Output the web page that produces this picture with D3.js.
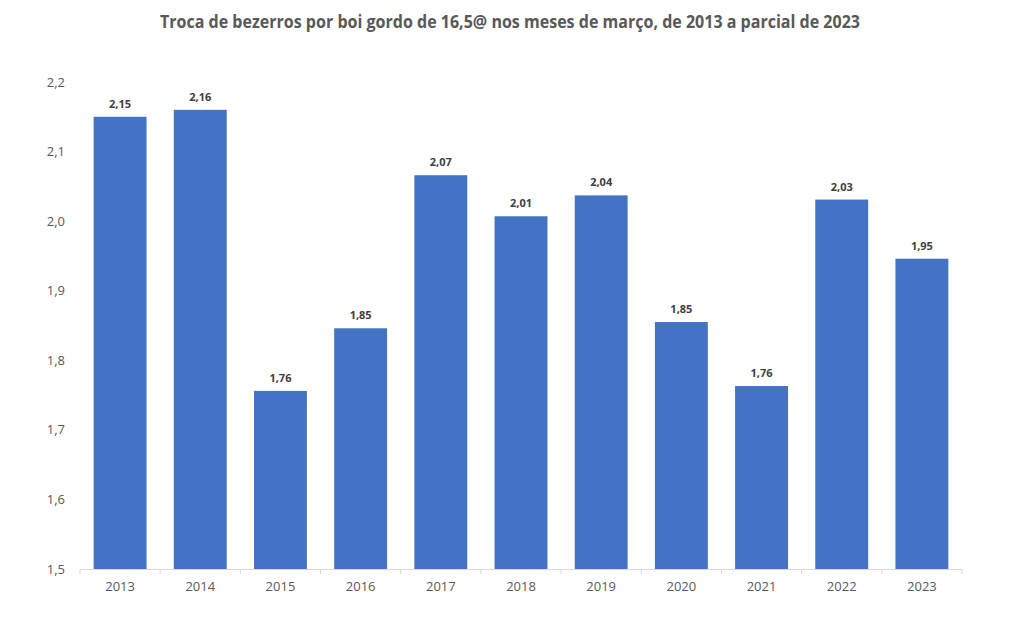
<!DOCTYPE html>
<html><head><meta charset="utf-8">
<script src="https://cdn.jsdelivr.net/npm/d3@7"></script>
<style>body{margin:0;background:#fff}svg{display:block}</style>
</head><body>
<svg id="c" width="1013" height="630"></svg>
<script>
const titleText = "Troca de bezerros por boi gordo de 16,5@ nos meses de março, de 2013 a parcial de 2023";
const years = ["2013","2014","2015","2016","2017","2018","2019","2020","2021","2022","2023"];
const values = [2.150, 2.160, 1.756, 1.846, 2.066, 2.007, 2.037, 1.855, 1.763, 2.031, 1.946];
const yTicks = [1.5, 1.6, 1.7, 1.8, 1.9, 2.0, 2.1, 2.2];

const loc = d3.formatLocale({decimal: ",", thousands: ".", grouping: [3], currency: ["R$", ""]});
const f1 = loc.format(".1f"), f2 = loc.format(".2f");

const svg = d3.select("#c");
const x = d3.scaleBand().domain(years).range([80, 962]).paddingInner(0.34).paddingOuter(0.17);
const y = d3.scaleLinear().domain([1.5, 2.2]).range([569, 82]);

svg.append("text").attr("x", 510).attr("y", 28).attr("text-anchor", "middle")
  .attr("font-family", "Open Sans, sans-serif").attr("font-weight", "bold").attr("font-size", 17)
  .attr("fill", "#595959").attr("textLength", 700).attr("lengthAdjust", "spacingAndGlyphs")
  .text(titleText);

svg.selectAll(".yl").data(yTicks).enter().append("text")
  .attr("x", 65).attr("y", d => y(d)).attr("dy", "0.35em").attr("text-anchor", "end")
  .attr("font-family", "Open Sans, sans-serif").attr("font-size", 13).attr("fill", "#595959")
  .text(d => f1(d));

svg.selectAll(".bar").data(values).enter().append("rect")
  .attr("x", (d, i) => x(years[i])).attr("width", x.bandwidth())
  .attr("y", d => y(d)).attr("height", d => y(1.5) - y(d)).attr("fill", "#4472C4");

svg.selectAll(".lbl").data(values).enter().append("text")
  .attr("x", (d, i) => x(years[i]) + x.bandwidth() / 2).attr("y", d => y(d) - 9)
  .attr("text-anchor", "middle").attr("font-family", "Open Sans, sans-serif")
  .attr("font-weight", "bold").attr("font-size", 11).attr("fill", "#404040")
  .text(d => f2(d));

const xa = svg.append("g").attr("transform", `translate(0,${y(1.5)})`)
  .call(d3.axisBottom(x).tickSize(0).tickPadding(13));
xa.select(".domain").attr("stroke", "#d9d9d9");
xa.selectAll("text").attr("font-family", "Open Sans, sans-serif").attr("font-size", 13).attr("fill", "#595959");
const bounds = years.map(d => x(d) - x.step() * x.paddingInner() / 2).concat([962]);
xa.selectAll(".bt").data(bounds).enter().append("line")
  .attr("x1", d => d).attr("x2", d => d).attr("y1", 0).attr("y2", 5).attr("stroke", "#d9d9d9");
</script>
</body></html>
